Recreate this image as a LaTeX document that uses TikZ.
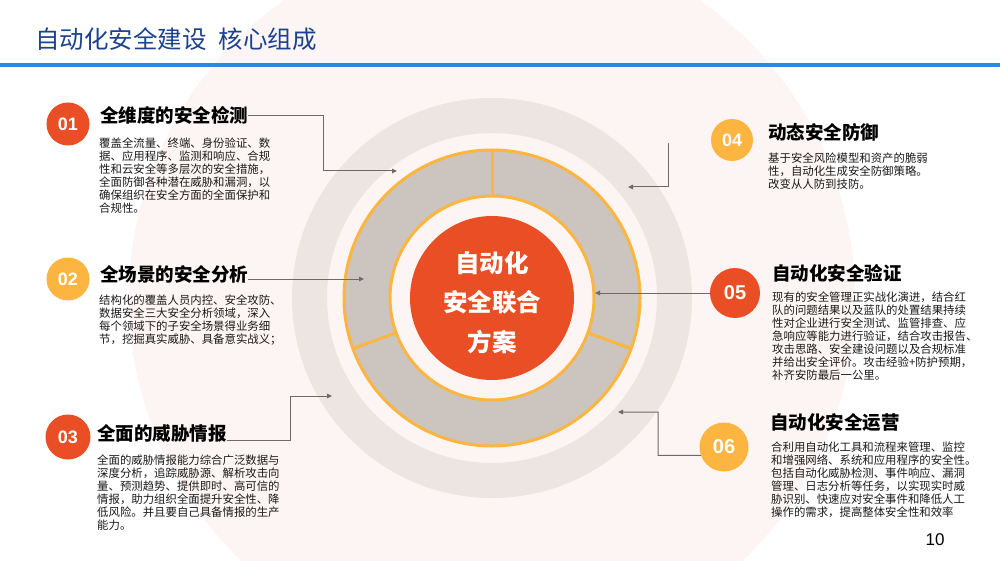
\documentclass[tikz,border=0pt]{standalone}
\usepackage{fontspec}
\setmainfont{Noto Sans CJK SC}
\newfontfamily\numfont{Liberation Sans}
\usetikzlibrary{arrows.meta}
\definecolor{disc}{HTML}{FDF5F3}
\definecolor{ringgray}{HTML}{EDE5E2}
\definecolor{seggray}{HTML}{CBC4BF}
\definecolor{segline}{HTML}{FBB540}
\definecolor{corered}{HTML}{E94E24}
\definecolor{numorange}{HTML}{FBB540}
\definecolor{bluebar}{HTML}{2E86E6}
\definecolor{titleblue}{HTML}{1C418F}
\definecolor{connc}{HTML}{6E6A68}
\definecolor{bodytext}{HTML}{1A1A1A}
\begin{document}
\begin{tikzpicture}[x=1pt,y=-1pt,
  head/.style={anchor=west,inner sep=0pt,text=black,font=\bfseries\fontsize{18.5}{22}\selectfont},
  body/.style={anchor=north west,inner sep=0pt,align=left,text=bodytext,font=\fontsize{11.4}{13}\selectfont},
  numc/.style={circle,inner sep=0pt,text=white,font=\numfont\bfseries\fontsize{18}{18}\selectfont},
  conn/.style={draw=connc,line width=1pt,-{Triangle[length=5pt,width=4.5pt]}},
  divider/.style={draw=segline,line width=3pt}]
\useasboundingbox (0,0) rectangle (1000,561);
\clip (0,0) rectangle (1000,561);
\fill[white] (0,0) rectangle (1000,561);
% background disc
\coordinate (c) at (492,298);
\fill[disc] (c) circle[radius=363];
% outer gray ring
\fill[ringgray,even odd rule] (c) circle[radius=200] (c) circle[radius=165];
% segmented ring
\fill[seggray,even odd rule] (c) circle[radius=148] (c) circle[radius=102];
\draw[divider] (c) circle[radius=148];
\draw[divider] (c) circle[radius=102];
\draw[divider] (c) ++(-90:102) -- ++(-90:46);
\draw[divider] (c) ++(160:102) -- ++(160:46);
\draw[divider] (c) ++(20:102) -- ++(20:46);
% core
\node[circle,fill=corered,minimum size=164pt,inner sep=0pt] (core) at (c) {};
\node[align=center,inner sep=0pt,text=white,font=\bfseries\fontsize{24.5}{39.5}\selectfont] (coretxt) at (492,302.5) {自动化\\安全联合\\方案};
% title bar
\fill[bluebar] (0,63) rectangle (1000,67.5);
\node[anchor=west,inner sep=0pt,text=titleblue,font=\fontsize{24.5}{26}\selectfont] (title) at (35,39) {自动化安全建设\hspace{0.5em}核心组成};
% number circles
\node[numc,fill=corered,minimum size=43pt] (n1) at (68,124) {01};
\node[numc,fill=numorange,minimum size=43pt] (n2) at (68,279) {02};
\node[numc,fill=corered,minimum size=45pt] (n3) at (68,437) {03};
\node[numc,fill=numorange,minimum size=42pt] (n4) at (732,140) {04};
\node[numc,fill=corered,minimum size=50pt,font=\numfont\bfseries\fontsize{20}{20}\selectfont] (n5) at (735,293) {05};
\node[numc,fill=numorange,minimum size=49pt,font=\numfont\bfseries\fontsize{20}{20}\selectfont] (n6) at (724,447) {06};
% headings
\node[head] (h1) at (100,115) {全维度的安全检测};
\node[head] (h2) at (100,274) {全场景的安全分析};
\node[head] (h3) at (97,433.5) {全面的威胁情报};
\node[head] (h4) at (768,132) {动态安全防御};
\node[head] (h5) at (772,273) {自动化安全验证};
\node[head] (h6) at (770,423) {自动化安全运营};
% bodies
\node[body] (d1) at (99,137.3) {覆盖全流量、终端、身份验证、数\\据、应用程序、监测和响应、合规\\性和云安全等多层次的安全措施，\\全面防御各种潜在威胁和漏洞，以\\确保组织在安全方面的全面保护和\\合规性。};
\node[body] (d2) at (99,294.3) {结构化的覆盖人员内控、安全攻防、\\数据安全三大安全分析领域，深入\\每个领域下的子安全场景得业务细\\节，挖掘真实威胁、具备意实战义；};
\node[body] (d3) at (97,454.3) {全面的威胁情报能力综合广泛数据与\\深度分析，追踪威胁源、解析攻击向\\量、预测趋势、提供即时、高可信的\\情报，助力组织全面提升安全性、降\\低风险。并且要自己具备情报的生产\\能力。};
\node[body] (d4) at (768,152.3) {基于安全风险模型和资产的脆弱\\性，自动化生成安全防御策略。\\改变从人防到技防。};
\node[body] (d5) at (772,291.3) {现有的安全管理正实战化演进，结合红\\队的问题结果以及蓝队的处置结果持续\\性对企业进行安全测试、监管排查、应\\急响应等能力进行验证，结合攻击报告、\\攻击思路、安全建设问题以及合规标准\\并给出安全评价。攻击经验+防护预期，\\补齐安防最后一公里。};
\node[body] (d6) at (771,441.3) {合利用自动化工具和流程来管理、监控\\和增强网络、系统和应用程序的安全性。\\包括自动化威胁检测、事件响应、漏洞\\管理、日志分析等任务，以实现实时威\\胁识别、快速应对安全事件和降低人工\\操作的需求，提高整体安全性和效率};
% connectors
\coordinate (b1) at (323,116);
\coordinate (t1) at (397,171);
\draw[conn] (h1.east |- b1) -- (b1) |- (t1);
\coordinate (t2) at (364,279);
\draw[conn] (h2.east |- t2) -- (t2);
\coordinate (b3) at (290,440);
\coordinate (t3) at (332,396);
\draw[conn] (h3.east |- b3) -- (b3) |- (t3);
\coordinate (s4) at (668,143);
\coordinate (t4) at (628,187);
\draw[conn] (s4) |- (t4);
\coordinate (t5) at (595,293);
\draw[conn] (n5.west) -- (t5);
\coordinate (b6) at (658,455.4);
\coordinate (t6) at (618,412);
\draw[conn] (n6.200) -- (b6) |- (t6);
% page number
\node[inner sep=0pt,font=\numfont\fontsize{17}{17}\selectfont] (pg) at (935,540) {10};
\end{tikzpicture}
\end{document}
